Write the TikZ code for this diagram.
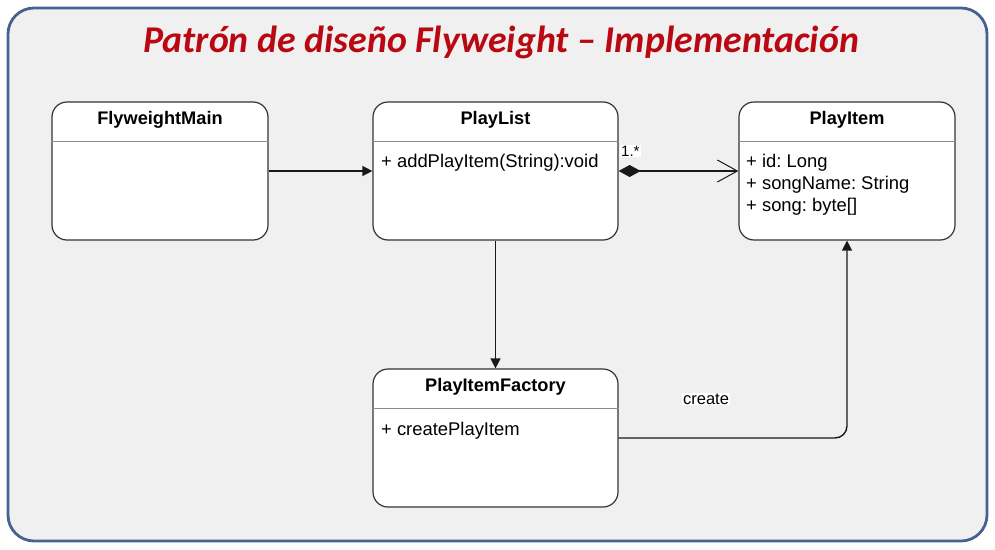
\documentclass[tikz,border=0pt]{standalone}
\usepackage{fontspec}
\setmainfont{Liberation Sans}
\newfontfamily\titlefont{Carlito}
\usetikzlibrary{arrows.meta}
\definecolor{framecol}{RGB}{70,98,145}
\definecolor{bgcol}{RGB}{240,240,240}
\definecolor{titlecol}{RGB}{185,8,18}
\frenchspacing
\begin{document}
\begin{tikzpicture}[x=1pt,y=-1pt]

\useasboundingbox (0,0) rectangle (995,549);
\draw[framecol,line width=2.8pt,fill=bgcol,rounded corners=26pt] (8,8) rectangle (987,541);

\node[titlecol] (title) at (501,42) {\titlefont\fontsize{37.8}{42}\selectfont\bfseries\itshape Patrón de diseño Flyweight – Implementación};

\tikzset{cls/.style={draw=black!80,fill=white,line width=1.2pt,rounded corners=15pt,inner sep=0pt}}
\tikzset{clsname/.style={font=\fontsize{18.2}{20}\selectfont\bfseries}}
\tikzset{attr/.style={anchor=west,inner sep=0pt,font=\fontsize{18.4}{20}\selectfont}}
\tikzset{divider/.style={draw=black!45,line width=0.8pt}}

\node[cls,minimum width=216pt,minimum height=138pt] (main) at (160,171) {};
\node[cls,minimum width=245pt,minimum height=138pt] (list) at (495.5,171) {};
\node[cls,minimum width=216pt,minimum height=138pt] (item) at (847,171) {};
\node[cls,minimum width=245pt,minimum height=138pt] (factory) at (495.5,438) {};

\foreach \c in {main,list,item,factory}
  \draw[divider] ([yshift=-40pt]\c.north west) -- ([yshift=-40pt]\c.north east);

\node[clsname] (mainname) at ([yshift=-18pt]main.north) {FlyweightMain};
\node[clsname] (listname) at ([yshift=-18pt]list.north) {PlayList};
\node[clsname] (itemname) at ([yshift=-18pt]item.north) {PlayItem};
\node[clsname] (factoryname) at ([yshift=-18pt]factory.north) {PlayItemFactory};

\node[attr] (listop) at (381,163) {+ addPlayItem(String):void};
\node[attr] (itemid) at (746,163) {+ id: Long};
\node[attr] (itemname2) at (746,185) {+ songName: String};
\node[attr] (itemsong) at (746,207) {+ song: byte[]};
\node[attr] (factoryop) at (381,431) {+ createPlayItem};

\tikzset{link/.style={draw=black!90,line width=1.4pt}}
\tikzset{dep/.style={link,-{Triangle[length=10pt,width=10pt]}}}

\draw[dep] (main.east) -- (list.west);
\draw[link,{Diamond[length=22pt,width=12pt]}-{Straight Barb[length=20pt,width=22pt,line width=1pt]}] (list.east) -- (item.west);
\node[fill=white,inner sep=1pt,anchor=west,font=\fontsize{15}{17}\selectfont] (mult) at (620,151) {1.*};

\draw[dep] (list.south) -- (factory.north);
\draw[dep,rounded corners=12pt] (factory.east) -- (factory.east -| item.south) -- (item.south);
\node[fill=white,inner sep=1pt,font=\fontsize{16.5}{18}\selectfont] (create) at (706,399) {create};

\end{tikzpicture}
\end{document}
